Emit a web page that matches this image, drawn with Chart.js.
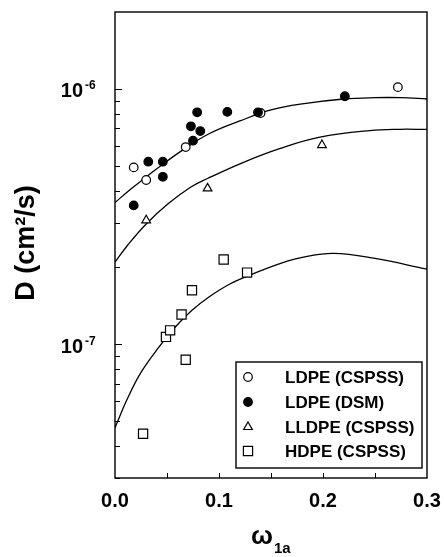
<!DOCTYPE html>
<html>
<head>
<meta charset="utf-8">
<script src="https://cdn.jsdelivr.net/npm/chart.js@4.4.0/dist/chart.umd.min.js"></script>
<style>
  html, body { margin: 0; padding: 0; background: #fff; }
  #wrap { width: 444px; height: 557px; position: relative; }
</style>
</head>
<body>
<div id="wrap"><canvas id="chart"></canvas></div>
<script>
// measured points: x = omega_1a, D in cm2/s
const ldpeCspssX = [0.018, 0.030, 0.068, 0.140, 0.272];
const ldpeCspssD = [4.93e-7, 4.40e-7, 5.92e-7, 8.05e-7, 1.016e-6];

const ldpeDsmX = [0.018, 0.032, 0.046, 0.046, 0.073, 0.075, 0.079, 0.082, 0.108, 0.1375, 0.221];
const ldpeDsmD = [3.50e-7, 5.19e-7, 5.19e-7, 4.53e-7, 7.14e-7, 6.27e-7, 8.10e-7, 6.84e-7, 8.13e-7, 8.10e-7, 9.36e-7];

const lldpeCspssX = [0.030, 0.089, 0.199];
const lldpeCspssD = [3.06e-7, 4.08e-7, 6.03e-7];

const hdpeCspssX = [0.027, 0.049, 0.053, 0.064, 0.068, 0.074, 0.1045, 0.127];
const hdpeCspssD = [4.47e-8, 1.07e-7, 1.135e-7, 1.31e-7, 8.71e-8, 1.63e-7, 2.15e-7, 1.91e-7];

// model curves
const ldpeFitX = [0, 0.015, 0.03, 0.045, 0.065, 0.09, 0.12, 0.15, 0.18, 0.22, 0.25, 0.275, 0.3];
const ldpeFitD = [3.59e-7, 4.05e-7, 4.52e-7, 5.04e-7, 5.76e-7, 6.66e-7, 7.49e-7, 8.27e-7, 8.74e-7, 9.13e-7, 9.24e-7, 9.24e-7, 9.13e-7];

const lldpeFitX = [0, 0.0125, 0.03, 0.051, 0.073, 0.089, 0.123, 0.159, 0.197, 0.245, 0.274, 0.3];
const lldpeFitD = [2.10e-7, 2.455e-7, 2.96e-7, 3.55e-7, 4.13e-7, 4.46e-7, 5.15e-7, 5.85e-7, 6.47e-7, 6.87e-7, 6.95e-7, 6.94e-7];

const hdpeFitX = [0, 0.012, 0.025, 0.042, 0.058, 0.074, 0.09, 0.11, 0.13, 0.16, 0.18, 0.21, 0.25, 0.3];
const hdpeFitD = [4.72e-8, 6.14e-8, 7.77e-8, 9.73e-8, 1.17e-7, 1.36e-7, 1.53e-7, 1.72e-7, 1.87e-7, 2.08e-7, 2.19e-7, 2.27e-7, 2.17e-7, 1.97e-7];

// axes
const xTickValues = [0, 0.1, 0.2, 0.3];
const xTickLabels = ['0.0', '0.1', '0.2', '0.3'];
const xMinorTicks = [0.05, 0.1, 0.15, 0.2, 0.25];
const yTickValues = [1e-7, 1e-6];
const yTickExponents = ['-7', '-6'];
const yMinorTicks = [3e-8, 4e-8, 5e-8, 6e-8, 7e-8, 8e-8, 9e-8, 2e-7, 3e-7, 4e-7, 5e-7, 6e-7, 7e-7, 8e-7, 9e-7];

const legendLabels = ['LDPE (CSPSS)', 'LDPE (DSM)', 'LLDPE (CSPSS)', 'HDPE (CSPSS)'];

const FONT = '"Liberation Sans", Arial, Helvetica, sans-serif';

const pts = (xs, ys) => xs.map((v, i) => ({ x: v, y: ys[i] }));

function marker(ctx, style, x, y) {
    ctx.beginPath();
    if (style === 'open' || style === 'filled') {
        ctx.arc(x, y, 4.3, 0, Math.PI * 2);
    } else if (style === 'tri') {
        const r = 5;
        ctx.moveTo(x, y - r);
        ctx.lineTo(x + r * 0.866, y + r * 0.5);
        ctx.lineTo(x - r * 0.866, y + r * 0.5);
        ctx.closePath();
    } else {
        ctx.rect(x - 4.6, y - 4.6, 9.2, 9.2);
    }
    ctx.fillStyle = style === 'filled' ? '#000' : '#fff';
    ctx.fill();
    ctx.stroke();
}

const framePlugin = {
    id: 'frame',
    afterDraw(chart) {
        const { ctx, chartArea: a, scales: { x, y } } = chart;
        ctx.save();
        ctx.strokeStyle = '#000';
        ctx.lineWidth = 1.4;
        ctx.strokeRect(a.left, a.top, a.right - a.left, a.bottom - a.top);

        // inward ticks
        ctx.lineWidth = 1;
        xMinorTicks.forEach(v => {
            const px = Math.round(x.getPixelForValue(v)) + 0.5;
            ctx.beginPath();
            ctx.moveTo(px, a.bottom);
            ctx.lineTo(px, a.bottom - 5);
            ctx.stroke();
        });
        yMinorTicks.concat(yTickValues).forEach(v => {
            const py = Math.round(y.getPixelForValue(v)) + 0.5;
            const len = yTickValues.includes(v) ? 7 : 5;
            ctx.beginPath();
            ctx.moveTo(a.left, py);
            ctx.lineTo(a.left + len, py);
            ctx.stroke();
        });

        // tick labels
        ctx.fillStyle = '#000';
        ctx.font = 'bold 20px ' + FONT;
        ctx.textAlign = 'center';
        ctx.textBaseline = 'middle';
        xTickValues.forEach((v, i) => {
            ctx.fillText(xTickLabels[i], x.getPixelForValue(v), 501);
        });
        yTickValues.forEach((v, i) => {
            const py = y.getPixelForValue(v);
            ctx.font = 'bold 20px ' + FONT;
            ctx.textAlign = 'right';
            ctx.fillText('10', 83, py + 3);
            ctx.font = 'bold 12px ' + FONT;
            ctx.textAlign = 'left';
            ctx.fillText(yTickExponents[i], 85, py - 3);
        });

        // axis titles
        ctx.save();
        ctx.translate(27, 243);
        ctx.rotate(-Math.PI / 2);
        ctx.font = 'bold 27px ' + FONT;
        ctx.textAlign = 'center';
        ctx.fillText('D (cm\u00B2/s)', 0, 0);
        ctx.restore();

        ctx.font = 'bold 26px ' + FONT;
        ctx.textAlign = 'right';
        ctx.fillText('\u03C9', 273, 537);
        ctx.font = 'bold 15px ' + FONT;
        ctx.textAlign = 'left';
        ctx.fillText('1a', 274, 549);

        // legend
        ctx.lineWidth = 1.4;
        ctx.strokeRect(236, 362, 186, 106);
        ctx.lineWidth = 1.2;
        const styles = ['open', 'filled', 'tri', 'square'];
        const rows = [377, 402, 427, 451];
        styles.forEach((s, i) => {
            marker(ctx, s, 248, rows[i]);
            ctx.fillStyle = '#000';
            ctx.font = 'bold 17px ' + FONT;
            ctx.textAlign = 'left';
            ctx.fillText(legendLabels[i], 285, rows[i] + 1);
        });
        ctx.restore();
    }
};

const pointSet = (label, xs, ys, style, fill, radius) => ({
    label: label,
    data: pts(xs, ys),
    pointStyle: style,
    pointRadius: radius,
    pointBackgroundColor: fill,
    pointBorderColor: '#000',
    pointBorderWidth: 1.2,
    showLine: false
});

const fitSet = (label, xs, ys) => ({
    label: label,
    data: pts(xs, ys),
    showLine: true,
    pointRadius: 0,
    borderColor: '#000',
    borderWidth: 1.3,
    tension: 0.4,
    fill: false
});

new Chart(document.getElementById('chart'), {
    type: 'scatter',
    data: {
        datasets: [
            pointSet('LDPE (DSM)', ldpeDsmX, ldpeDsmD, 'circle', '#000', 4.3),
            pointSet('LDPE (CSPSS)', ldpeCspssX, ldpeCspssD, 'circle', '#fff', 4.3),
            pointSet('LLDPE (CSPSS)', lldpeCspssX, lldpeCspssD, 'triangle', '#fff', 5),
            pointSet('HDPE (CSPSS)', hdpeCspssX, hdpeCspssD, 'rect', '#fff', 6.5),
            fitSet('LDPE fit', ldpeFitX, ldpeFitD),
            fitSet('LLDPE fit', lldpeFitX, lldpeFitD),
            fitSet('HDPE fit', hdpeFitX, hdpeFitD)
        ]
    },
    options: {
        responsive: true,
        maintainAspectRatio: false,
        animation: false,
        layout: { padding: { left: 115, right: 17, top: 12, bottom: 79 } },
        scales: {
            x: { type: 'linear', min: 0, max: 0.3, display: false },
            y: { type: 'logarithmic', min: 3e-8, max: 2e-6, display: false }
        },
        plugins: {
            legend: { display: false },
            tooltip: { enabled: false }
        }
    },
    plugins: [framePlugin]
});
</script>
</body>
</html>
